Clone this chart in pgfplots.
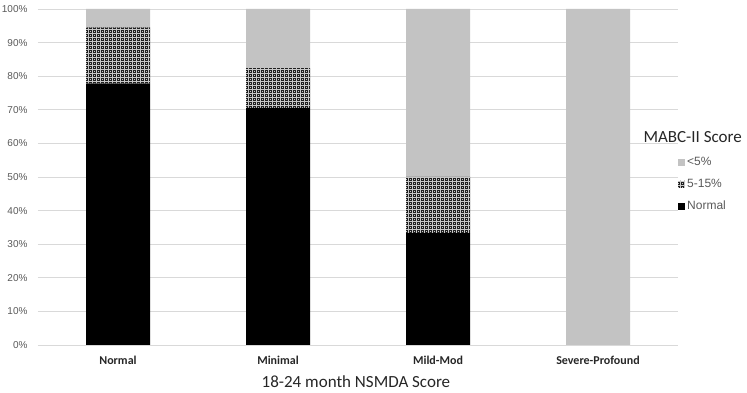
\documentclass[border=0pt]{standalone}
\usepackage{pgfplots}
\pgfplotsset{compat=1.18}
\usepackage{fontspec}
\setmainfont{Liberation Sans}
\newfontfamily\carlito{Carlito}
\usetikzlibrary{patterns}
\definecolor{barGrey}{HTML}{C3C3C3}
\definecolor{gridGrey}{HTML}{D9D9D9}
\definecolor{txtGrey}{HTML}{595959}
\pgfdeclarepatternformonly{plaid}{\pgfpoint{-0.5pt}{-0.5pt}}{\pgfpoint{4.5pt}{4.5pt}}{\pgfpoint{4pt}{4pt}}{%
  \pgfsetlinewidth{0.55pt}%
  \pgfpathmoveto{\pgfpoint{0pt}{0pt}}\pgfpathlineto{\pgfpoint{4pt}{0pt}}%
  \pgfpathmoveto{\pgfpoint{0pt}{0pt}}\pgfpathlineto{\pgfpoint{0pt}{4pt}}%
  \pgfusepath{stroke}%
  \pgfpathrectangle{\pgfpoint{1.7pt}{1.7pt}}{\pgfpoint{0.6pt}{0.6pt}}%
  \pgfusepath{fill}%
}
\pgfplotstableread{
x normal mid low
0 77.8 16.7 5.5
1 70.6 11.8 17.6
2 33.3 16.7 50.0
3 0 0 100
}\datatable
\begin{document}
\begin{tikzpicture}
\useasboundingbox (0,0) rectangle (747pt,393pt);
\begin{axis}[
  at={(38pt,48pt)}, anchor=south west,
  scale only axis, width=640pt, height=336pt,
  ybar stacked, bar width=64pt,
  xmin=-0.5, xmax=3.5, ymin=0, ymax=100,
  xtick={0,1,2,3},
  xticklabels={Normal,Minimal,Mild-Mod,Severe-Profound},
  ytick={0,10,...,100},
  yticklabel={\pgfmathprintnumber{\tick}\%},
  /pgf/number format/assume math mode=true,
  ymajorgrids, grid style={draw=gridGrey, line width=0.8pt},
  axis line style={draw=none},
  major tick length=0pt,
  yticklabel style={font=\fontsize{10}{12}\selectfont, text=txtGrey, anchor=east, xshift=-7pt},
  xticklabel style={font=\carlito\bfseries\fontsize{12}{14}\selectfont, text=black!85, anchor=north, yshift=-8pt},
  xlabel={18-24 month NSMDA Score},
  xlabel style={font=\carlito\fontsize{17}{20}\selectfont, text=black!85, at={(axis description cs:0.344,-0.11)}, anchor=west},
  clip=false,
  reverse legend,
  legend style={draw=none, fill=none, at={(axis description cs:1.0,0.565)}, anchor=north west,
    font=\fontsize{12}{14}\selectfont, text=txtGrey, row sep=8pt, inner sep=0pt,
    /tikz/every even column/.append style={column sep=2pt}},
  legend cell align=left,
  legend image code/.code={\fill[#1] (0pt,-3.5pt) rectangle (7pt,3.5pt);},
]
\addplot+[fill=black, draw=none] table[x=x, y=normal] {\datatable};
\addplot+[fill=black!88, draw=none, postaction={pattern=plaid, pattern color=white!78!black}] table[x=x, y=mid] {\datatable};
\addplot+[fill=barGrey, draw=none] table[x=x, y=low] {\datatable};
\legend{Normal,5-15\%,<5\%}
\node[font=\carlito\fontsize{17}{20}\selectfont, text=black!85, anchor=east, inner sep=0pt] at (axis description cs:1.1,0.62) {MABC-II Score};
\end{axis}
\end{tikzpicture}
\end{document}
